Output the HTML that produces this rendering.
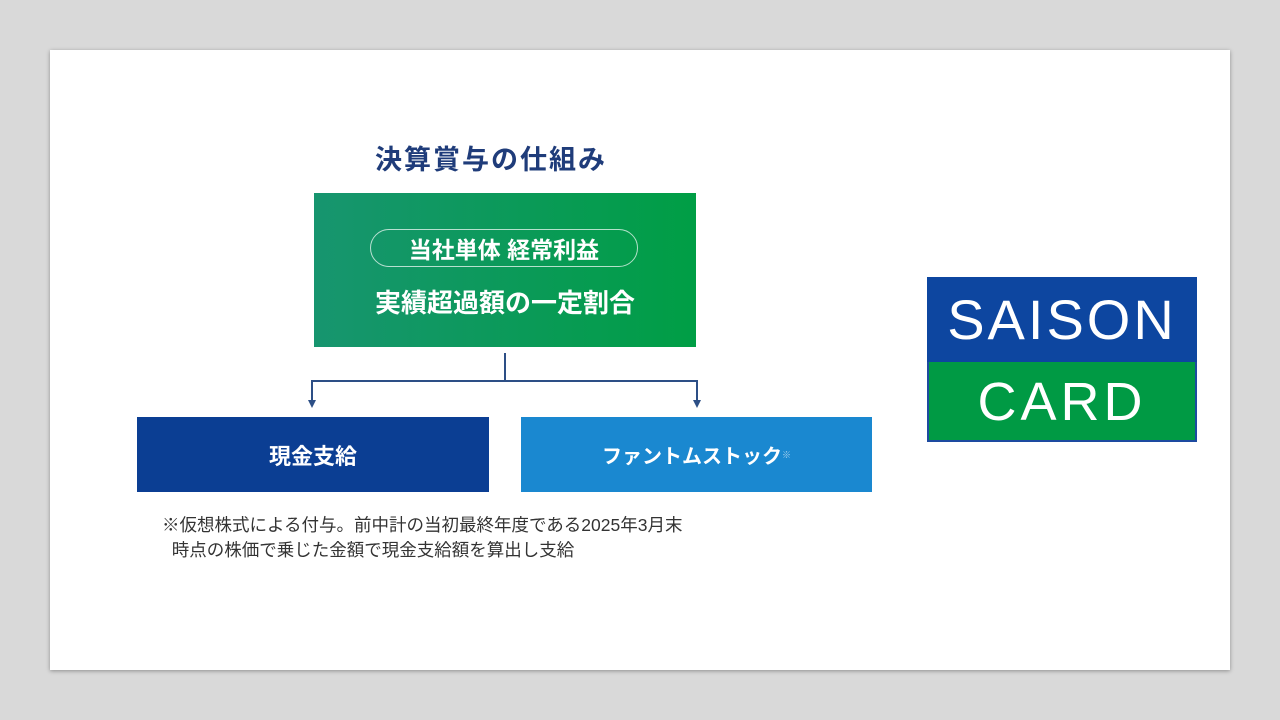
<!DOCTYPE html>
<html><head><meta charset="utf-8"><style>
body{margin:0;width:1280px;height:720px;background:#d9d9d9;position:relative;overflow:hidden;font-family:"Liberation Sans","Noto Sans CJK JP",sans-serif;}
.a{position:absolute;}
.slide{left:50px;top:50px;width:1180px;height:620px;background:#fff;box-shadow:0 1px 4px rgba(0,0,0,.35);}
.c{display:flex;align-items:center;justify-content:center;color:#fff;font-weight:bold;white-space:nowrap;}
</style></head><body>
<div class="a slide"></div>
<div class="a" style="left:375px;top:138px;font-size:27px;font-weight:bold;color:#1f3c7a;letter-spacing:2px;white-space:nowrap;">決算賞与の仕組み</div>
<div class="a" style="left:314px;top:193px;width:382px;height:154px;background:linear-gradient(90deg,#17956f,#009e45);"></div>
<div class="a c" style="left:370px;top:229px;width:266px;height:36px;border:1.5px solid rgba(255,255,255,.7);border-radius:19px;font-size:23px;">当社単体 経常利益</div>
<div class="a c" style="left:314px;top:284px;width:382px;height:34px;font-size:26px;">実績超過額の一定割合</div>
<svg class="a" style="left:0;top:0" width="1280" height="720">
<g stroke="#2d4f86" stroke-width="2" fill="none">
<line x1="505" y1="353" x2="505" y2="381"/>
<line x1="312" y1="381" x2="697" y2="381"/>
<line x1="312" y1="380" x2="312" y2="402"/>
<line x1="697" y1="380" x2="697" y2="402"/>
</g>
<polygon points="308,400 316,400 312,408" fill="#2d4f86"/>
<polygon points="693,400 701,400 697,408" fill="#2d4f86"/>
</svg>
<div class="a c" style="left:137px;top:417px;width:352px;height:75px;background:#0b3e93;font-size:22px;">現金支給</div>
<div class="a c" style="left:521px;top:417px;width:351px;height:75px;background:#1a88d0;font-size:20px;">ファントムストック<sup style="font-size:9px;opacity:.6">※</sup></div>
<div class="a" style="left:162px;top:513px;font-size:17.5px;color:#333;line-height:25px;white-space:nowrap;">※仮想株式による付与。前中計の当初最終年度である2025年3月末<br>&nbsp;&nbsp;時点の株価で乗じた金額で現金支給額を算出し支給</div>
<div class="a" style="left:927px;top:277px;width:270px;height:165px;background:#009a44;border:2px solid #1d4aa0;box-sizing:border-box;"></div>
<div class="a c" style="left:927px;top:277px;width:270px;height:85px;background:#0d46a0;font-weight:normal;font-size:56px;letter-spacing:3px;">SAISON</div>
<div class="a c" style="left:927px;top:362px;width:270px;height:80px;font-weight:normal;font-size:54px;letter-spacing:4px;">CARD</div>
</body></html>
